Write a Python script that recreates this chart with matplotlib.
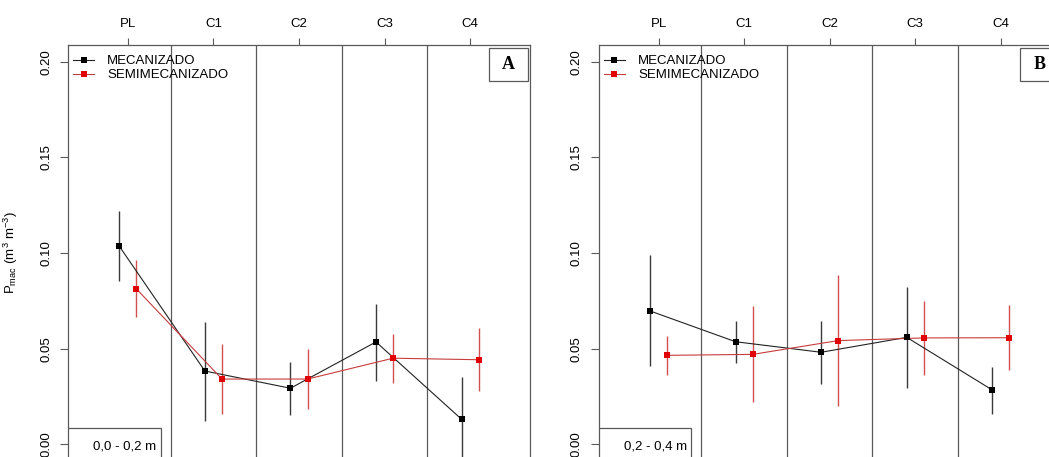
import matplotlib
matplotlib.use("Agg")
import matplotlib.pyplot as plt
from matplotlib.patches import Rectangle
from matplotlib.lines import Line2D
import numpy as np

plt.rcParams['font.family'] = ['Liberation Sans', 'DejaVu Sans']
plt.rcParams['mathtext.fontset'] = 'custom'
plt.rcParams['mathtext.rm'] = 'Liberation Sans'
plt.rcParams['mathtext.it'] = 'Liberation Sans'

categories = ["PL", "C1", "C2", "C3", "C4"]
series_names = ["MECANIZADO", "SEMIMECANIZADO"]

# Panel A (0,0 - 0,2 m)
mec_a = [0.1035, 0.0383, 0.0293, 0.0535, 0.0131]
mec_a_lo = [0.0854, 0.0123, 0.0153, 0.0331, -0.0090]
mec_a_hi = [0.1221, 0.0641, 0.0432, 0.0733, 0.0353]
semi_a = [0.0812, 0.0341, 0.0341, 0.0450, 0.0442]
semi_a_lo = [0.0667, 0.0157, 0.0186, 0.0319, 0.0279]
semi_a_hi = [0.0962, 0.0523, 0.0497, 0.0575, 0.0608]

# Panel B (0,2 - 0,4 m)
mec_b = [0.0697, 0.0536, 0.0481, 0.0559, 0.0284]
mec_b_lo = [0.0409, 0.0427, 0.0315, 0.0294, 0.0158]
mec_b_hi = [0.0990, 0.0643, 0.0643, 0.0821, 0.0403]
semi_b = [0.0465, 0.0470, 0.0542, 0.0556, 0.0557]
semi_b_lo = [0.0364, 0.0221, 0.0199, 0.0361, 0.0387]
semi_b_hi = [0.0565, 0.0723, 0.0885, 0.0749, 0.0730]

panel_letters = ["A", "B"]
depth_labels = ["0,0 - 0,2 m", "0,2 - 0,4 m"]
yticks = [0.00, 0.05, 0.10, 0.15, 0.20]

W, H = 1049, 457
fig = plt.figure(figsize=(W / 100, H / 100), dpi=100)

ax_w_px = 462
ax_h_px = 414.6
ax_top_px = 45
ax_bottom_px = ax_top_px + ax_h_px
lefts_px = [68, 598.7]

spine_col = "#5a5a5a"
black_line = "#222222"
black_err = "#3a3a3a"
red_mark = "#e00000"
red_line = "#c83c3c"
red_err = "#d25050"

panels = [
    (mec_a, mec_a_lo, mec_a_hi, semi_a, semi_a_lo, semi_a_hi),
    (mec_b, mec_b_lo, mec_b_hi, semi_b, semi_b_lo, semi_b_hi),
]

x = np.arange(1, len(categories) + 1)
off = 0.1

for i, (lp, data) in enumerate(zip(lefts_px, panels)):
    m, mlo, mhi, s, slo, shi = data
    ax = fig.add_axes([lp / W, (H - ax_bottom_px) / H, ax_w_px / W, ax_h_px / H])
    ax.set_xlim(0.3, 5.7)
    ax.set_ylim(-0.008, 0.2087)

    for sp in ax.spines.values():
        sp.set_color(spine_col)
        sp.set_linewidth(0.9)

    for sep in x[:-1] + 0.5:
        ax.axvline(sep, color=spine_col, lw=0.9, zorder=1)

    xm = x - off
    xs = x + off
    ax.plot(xm, m, color=black_line, lw=0.8, zorder=3)
    ax.plot(xs, s, color=red_line, lw=0.8, zorder=3)
    ax.vlines(xm, mlo, mhi, color=black_err, lw=1.0, zorder=2)
    ax.vlines(xs, slo, shi, color=red_err, lw=1.0, zorder=2)
    ax.plot(xm, m, ls='none', marker='s', ms=4.3, mew=0, color='black', zorder=4)
    ax.plot(xs, s, ls='none', marker='s', ms=4.3, mew=0, color=red_mark, zorder=4)

    ax.xaxis.tick_top()
    ax.set_xticks(x)
    ax.set_xticklabels(categories, fontsize=9.5)
    ax.tick_params(axis='x', which='both', length=5, width=0.8, color=spine_col, pad=5.5)
    ax.set_yticks(yticks)
    ax.set_yticklabels([f"{v:.2f}" for v in yticks], fontsize=9.5, rotation=90, va='center')
    ax.tick_params(axis='y', length=5.5, width=0.8, color=spine_col, pad=6)

    if i == 0:
        ax.set_ylabel(r'P$_{\mathrm{mac}}$ (m$^{3}$ m$^{-3}$)', fontsize=9.5)
        ax.yaxis.set_label_coords(-(68 - 20) / ax_w_px, 0.5)

    handles = [
        Line2D([0], [0], color=black_line, lw=0.8, marker='s', ms=4.3, mew=0, mfc='black'),
        Line2D([0], [0], color=red_line, lw=0.8, marker='s', ms=4.3, mew=0, mfc=red_mark),
    ]
    ax.legend(handles, series_names, loc='upper left', frameon=False, fontsize=9.5,
              handlelength=1.6, handletextpad=1.0, labelspacing=0.15,
              borderaxespad=0.0, borderpad=0.0,
              bbox_to_anchor=(5 / ax_w_px, 1 - 10 / ax_h_px))

    # letter box
    bw, bh = 39 / ax_w_px, 32.5 / ax_h_px
    bx = 1 - 41 / ax_w_px
    by = 1 - 35.7 / ax_h_px
    ax.add_patch(Rectangle((bx, by), bw, bh, transform=ax.transAxes, fill=True,
                           facecolor='white', edgecolor=spine_col, lw=0.9, zorder=5, clip_on=False))
    ax.text(bx + bw / 2, by + bh / 2, panel_letters[i], transform=ax.transAxes,
            ha='center', va='center', fontsize=13, fontweight='bold',
            family=['Liberation Serif', 'DejaVu Serif'], zorder=6)

    # depth box
    dw = 92.7 / ax_w_px
    dh = 31.9 / ax_h_px
    ax.add_patch(Rectangle((0, 0), dw, dh, transform=ax.transAxes, fill=True,
                           facecolor='white', edgecolor=spine_col, lw=0.9, zorder=5))
    ax.text(0.122, 12.9 / ax_h_px, depth_labels[i], transform=ax.transAxes,
            ha='center', va='center', fontsize=9.5, zorder=6)

fig.savefig("out.png", dpi=100)
